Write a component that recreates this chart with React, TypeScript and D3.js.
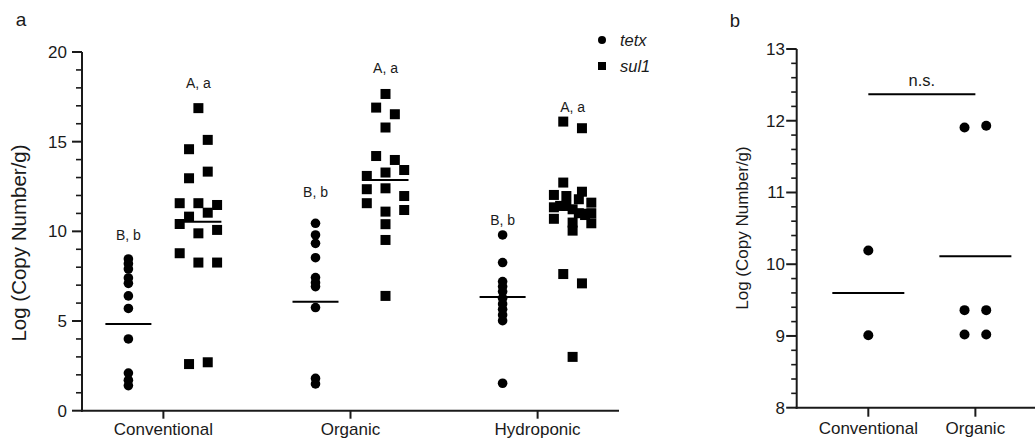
import React from 'react';
import * as d3 from 'd3';

// ---------- Panel a data ----------
const categoriesA = ['Conventional', 'Organic', 'Hydroponic'];
const seriesA = ['tetx', 'sul1'];
const tetxConventional = [8.46, 8.2, 7.9, 7.4, 7.1, 6.4, 5.7, 4.0, 2.1, 1.7, 1.4];
const tetxOrganic = [10.45, 9.8, 9.33, 8.53, 7.42, 7.14, 6.92, 5.75, 1.8, 1.49];
const tetxHydroponic = [9.8, 8.26, 7.2, 6.92, 6.64, 6.27, 5.95, 5.65, 5.34, 5.02, 1.53];
const sul1Conventional = [16.87, 14.58, 15.1, 12.96, 13.33, 11.57, 11.57, 11.47, 10.82, 11.04, 10.41, 9.89, 10.08, 8.78, 8.26, 8.26, 2.6, 2.7];
const sul1Organic = [17.66, 16.9, 16.53, 15.79, 14.2, 13.98, 13.09, 13.28, 13.42, 12.35, 12.4, 11.97, 11.57, 11.1, 11.19, 10.4, 9.52, 6.4];
const sul1Hydroponic = [16.12, 15.75, 12.72, 12.03, 12.21, 11.97, 11.79, 11.34, 11.42, 11.42, 11.6, 11.23, 11.01, 10.91, 11.01, 10.7, 10.49, 10.45, 10.04, 7.62, 7.1, 3.0];
const tetxMeans = [4.83, 6.08, 6.34];
const sul1Means = [10.54, 12.87, 11.2];
const tetxLetters = ['B, b', 'B, b', 'B, b'];
const sul1Letters = ['A, a', 'A, a', 'A, a'];
const tetxLetterLevel = [9.8, 12.2, 10.6];
const sul1LetterLevel = [18.26, 19.1, 16.9];
const ticksA = [0, 5, 10, 15, 20];
const yTitle = 'Log (Copy Number/g)';

// ---------- Panel b data ----------
const categoriesB = ['Conventional', 'Organic'];
const bConventional = [10.19, 9.01];
const bOrganic = [11.905, 11.93, 9.36, 9.36, 9.02, 9.02];
const meansB = [9.6, 10.11];
const ticksB = [8, 9, 10, 11, 12, 13];
const nsLabel = 'n.s.';
const nsLevel = 12.37;

const FONT = '"Liberation Sans", Arial, Helvetica, sans-serif';
const INK = '#1a1a1a';

// Prism-like horizontal scatter: points close in value share a row and are spread symmetrically
function spreadOffsets(values: number[], pxPerUnit: number, rowPx: number, step: number, maxHalf: number): number[] {
  const order = values.map((_, i) => i).sort((a, b) => values[b] - values[a] || a - b);
  const offsets = new Array(values.length).fill(0);
  let i = 0;
  while (i < order.length) {
    const start = values[order[i]];
    let j = i;
    while (j < order.length && (start - values[order[j]]) * pxPerUnit < rowPx) j++;
    const row = order.slice(i, j).sort((a, b) => a - b);
    const n = row.length;
    const spacing = n > 1 ? Math.min(2 * step, (2 * maxHalf) / (n - 1)) : 0;
    row.forEach((idx, k) => {
      offsets[idx] = (k - (n - 1) / 2) * spacing;
    });
    i = j;
  }
  return offsets;
}

function PanelA() {
  const left = 82, right = 619, top = 52, bottom = 410.7;
  const x = d3.scalePoint<string>().domain(categoriesA).range([left, right]).padding(0.435);
  const xSub = d3.scalePoint<string>().domain(seriesA).range([-35, 35]);
  const y = d3.scaleLinear().domain([0, 20]).range([bottom, top]);
  const ppu = Math.abs(y(1) - y(0));
  const minor = d3.range(0, 20.001, 1).filter((v) => !ticksA.includes(v));
  const tetxData = [tetxConventional, tetxOrganic, tetxHydroponic];
  const sul1Data = [sul1Conventional, sul1Organic, sul1Hydroponic];
  const sq = 10;
  const r = 4.8;
  return (
    <g>
      <text x={21} y={26} fontSize={19} fontFamily={FONT} textAnchor="middle" fill={INK}>a</text>
      {/* axes */}
      <line x1={left} x2={left} y1={top} y2={bottom + 1} stroke={INK} strokeWidth={2} />
      <line x1={left - 1} x2={right} y1={bottom} y2={bottom} stroke={INK} strokeWidth={2} />
      {ticksA.map((t) => (
        <g key={'ta' + t}>
          <line x1={left - 10} x2={left} y1={y(t)} y2={y(t)} stroke={INK} strokeWidth={2} />
          <text x={67} y={y(t)} dy="0.35em" textAnchor="end" fontSize={17} fontFamily={FONT} fill={INK}>{t}</text>
        </g>
      ))}
      {minor.map((t) => (
        <line key={'ma' + t} x1={left - 6} x2={left} y1={y(t)} y2={y(t)} stroke={INK} strokeWidth={1.6} />
      ))}
      {categoriesA.map((c) => (
        <g key={'ca' + c}>
          <line x1={x(c)!} x2={x(c)!} y1={bottom} y2={bottom + 8} stroke={INK} strokeWidth={2} />
          <text x={x(c)!} y={435} textAnchor="middle" fontSize={17} fontFamily={FONT} fill={INK}>{c}</text>
        </g>
      ))}
      <text transform={`translate(26,243) rotate(-90)`} textAnchor="middle" fontSize={20.5} fontFamily={FONT} fill={INK}>{yTitle}</text>
      {/* tetx */}
      {categoriesA.map((c, ci) => {
        const cx = x(c)! + xSub('tetx')!;
        return (
          <g key={'tx' + c}>
            {tetxData[ci].map((v, i) => (
              <circle key={i} cx={cx} cy={y(v)} r={r} fill="#000" />
            ))}
            <line x1={cx - 23} x2={cx + 23} y1={y(tetxMeans[ci])} y2={y(tetxMeans[ci])} stroke="#000" strokeWidth={2} />
            <text x={cx} y={y(tetxLetterLevel[ci])} dy="0.35em" textAnchor="middle" fontSize={14} fontFamily={FONT} fill={INK}>{tetxLetters[ci]}</text>
          </g>
        );
      })}
      {/* sul1 */}
      {categoriesA.map((c, ci) => {
        const cx = x(c)! + xSub('sul1')!;
        const offs = spreadOffsets(sul1Data[ci], ppu, 9.5, 9.35, 18.7);
        return (
          <g key={'su' + c}>
            {sul1Data[ci].map((v, i) => (
              <rect key={i} x={cx + offs[i] - sq / 2} y={y(v) - sq / 2} width={sq} height={sq} fill="#000" />
            ))}
            <line x1={cx - 23} x2={cx + 23} y1={y(sul1Means[ci])} y2={y(sul1Means[ci])} stroke="#000" strokeWidth={2} />
            <text x={cx} y={y(sul1LetterLevel[ci])} dy="0.35em" textAnchor="middle" fontSize={14} fontFamily={FONT} fill={INK}>{sul1Letters[ci]}</text>
          </g>
        );
      })}
      {/* legend */}
      <circle cx={602} cy={40} r={4} fill="#000" />
      <text x={620} y={40} dy="0.35em" fontSize={16.5} fontStyle="italic" fontFamily={FONT} fill={INK}>{seriesA[0]}</text>
      <rect x={598} y={62} width={8} height={8} fill="#000" />
      <text x={620} y={66} dy="0.35em" fontSize={16.5} fontStyle="italic" fontFamily={FONT} fill={INK}>{seriesA[1]}</text>
    </g>
  );
}

function PanelB() {
  const left = 796.7, right = 1047, top = 49, bottom = 407.7;
  const x = d3.scalePoint<string>().domain(categoriesB).range([left, right]).padding(0.669);
  const y = d3.scaleLinear().domain([8, 13]).range([bottom, top]);
  const ppu = Math.abs(y(1) - y(0));
  const minor = d3.range(8, 13.001, 0.2).map((v) => Math.round(v * 10) / 10).filter((v) => !ticksB.includes(v));
  const groups = [bConventional, bOrganic];
  return (
    <g>
      <text x={735} y={26.5} fontSize={18.5} fontFamily={FONT} textAnchor="middle" fill={INK}>b</text>
      <line x1={left} x2={left} y1={top} y2={bottom + 1} stroke={INK} strokeWidth={2} />
      <line x1={left - 1} x2={right} y1={bottom} y2={bottom} stroke={INK} strokeWidth={2} />
      {ticksB.map((t) => (
        <g key={'tb' + t}>
          <line x1={left - 10.5} x2={left} y1={y(t)} y2={y(t)} stroke={INK} strokeWidth={2} />
          <text x={785} y={y(t)} dy="0.35em" textAnchor="end" fontSize={17} fontFamily={FONT} fill={INK}>{t}</text>
        </g>
      ))}
      {minor.map((t) => (
        <line key={'mb' + t} x1={left - 5.5} x2={left} y1={y(t)} y2={y(t)} stroke={INK} strokeWidth={1.6} />
      ))}
      {categoriesB.map((c) => (
        <g key={'cb' + c}>
          <line x1={x(c)!} x2={x(c)!} y1={bottom} y2={bottom + 9} stroke={INK} strokeWidth={2} />
          <text x={x(c)!} y={433.5} textAnchor="middle" fontSize={17} fontFamily={FONT} fill={INK}>{c}</text>
        </g>
      ))}
      <text transform={`translate(748,228) rotate(-90)`} textAnchor="middle" fontSize={17} fontFamily={FONT} fill={INK}>{yTitle}</text>
      {categoriesB.map((c, ci) => {
        const cx = x(c)!;
        const offs = spreadOffsets(groups[ci], ppu, 9.5, 10.85, 21.7);
        return (
          <g key={'pb' + c}>
            {groups[ci].map((v, i) => (
              <circle key={i} cx={cx + offs[i]} cy={y(v)} r={5} fill="#000" />
            ))}
            <line x1={cx - 36} x2={cx + 36} y1={y(meansB[ci])} y2={y(meansB[ci])} stroke="#000" strokeWidth={2} />
          </g>
        );
      })}
      <line x1={x(categoriesB[0])!} x2={x(categoriesB[1])!} y1={y(nsLevel)} y2={y(nsLevel)} stroke="#000" strokeWidth={2} />
      <text x={(x(categoriesB[0])! + x(categoriesB[1])!) / 2} y={y(nsLevel) - 8} textAnchor="middle" fontSize={16.5} fontFamily={FONT} fill={INK}>{nsLabel}</text>
    </g>
  );
}

export default function App() {
  return (
    <svg
      width={1035}
      height={439}
      style={{ position: 'absolute', left: 0, top: 0, display: 'block', background: '#fff' }}
    >
      <rect x={0} y={0} width={1035} height={439} fill="#fff" />
      <PanelA />
      <PanelB />
    </svg>
  );
}
